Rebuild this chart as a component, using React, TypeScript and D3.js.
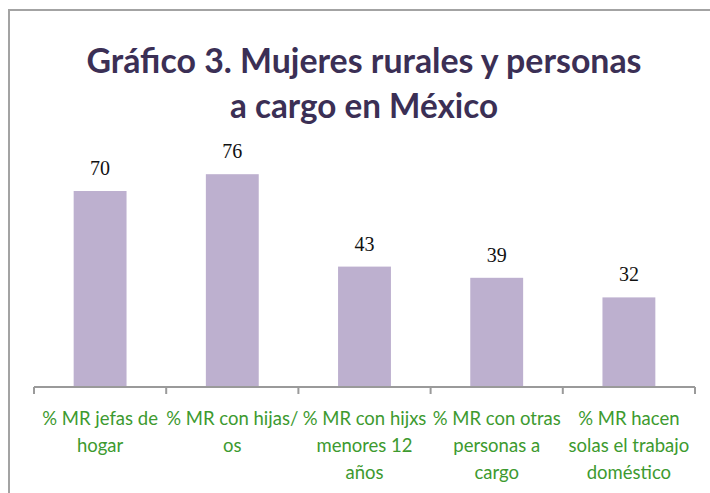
import React from 'react'
import * as d3 from 'd3'

const width = 710
const height = 493

const titleLines = ['Gráfico 3. Mujeres rurales y personas', 'a cargo en México']
const titleWidths = [555, 268]
const categories = [
  ['% MR jefas de', 'hogar'],
  ['% MR con hijas/', 'os'],
  ['% MR con hijxs', 'menores 12', 'años'],
  ['% MR con otras', 'personas a', 'cargo'],
  ['% MR hacen', 'solas el trabajo', 'doméstico'],
]
const values = [70, 76, 43, 39, 32]

const plot = { left: 34, right: 695, bottom: 387, top: 163 }

export default function App() {
  const xScale = d3
    .scaleBand<number>()
    .domain(values.map((_, i) => i))
    .range([plot.left, plot.right])
    .paddingInner(0.6)
    .paddingOuter(0.3)
  const yScale = d3.scaleLinear().domain([0, 80]).range([plot.bottom, plot.top])
  const step = xScale.step()
  const ticks = d3.range(values.length + 1).map((i) => plot.left + i * step)

  return (
    <div style={{ position: 'fixed', left: 0, top: 0 }}>
      <svg width={width} height={height} style={{ display: 'block', background: '#fff' }}>
        <rect x={9} y={10} width={800} height={600} fill="none" stroke="#a3a3a3" strokeWidth={2} />

        {titleLines.map((t, i) => (
          <text
            key={i}
            x={364}
            y={73 + i * 45}
            textAnchor="middle"
            fontFamily="Lato, 'Open Sans', sans-serif"
            fontWeight={700}
            fontSize={35}
            fill="#3b2f55"
            textLength={titleWidths[i]}
            lengthAdjust="spacingAndGlyphs"
          >
            {t}
          </text>
        ))}

        {values.map((v, i) => {
          const x = xScale(i) as number
          const y = yScale(v)
          return (
            <g key={i}>
              <rect x={x} y={y} width={xScale.bandwidth()} height={plot.bottom - y} fill="#bdb0cf" />
              <text
                x={x + xScale.bandwidth() / 2}
                y={y - 16}
                textAnchor="middle"
                fontFamily="'Liberation Serif', 'Times New Roman', serif"
                fontSize={20}
                fill="#111"
              >
                {v}
              </text>
            </g>
          )
        })}

        <line x1={plot.left} x2={plot.right} y1={plot.bottom} y2={plot.bottom} stroke="#9a9a9a" strokeWidth={2} />
        {ticks.map((t, i) => (
          <line key={i} x1={t} x2={t} y1={plot.bottom} y2={plot.bottom + 7} stroke="#9a9a9a" strokeWidth={2} />
        ))}

        {categories.map((lines, i) => (
          <text
            key={i}
            textAnchor="middle"
            fontFamily="Lato, 'Open Sans', sans-serif"
            fontSize={18.5}
            fill="#3d9a2f"
          >
            {lines.map((l, j) => (
              <tspan key={j} x={(xScale(i) as number) + xScale.bandwidth() / 2} y={425 + j * 27}>
                {l}
              </tspan>
            ))}
          </text>
        ))}
      </svg>
    </div>
  )
}
